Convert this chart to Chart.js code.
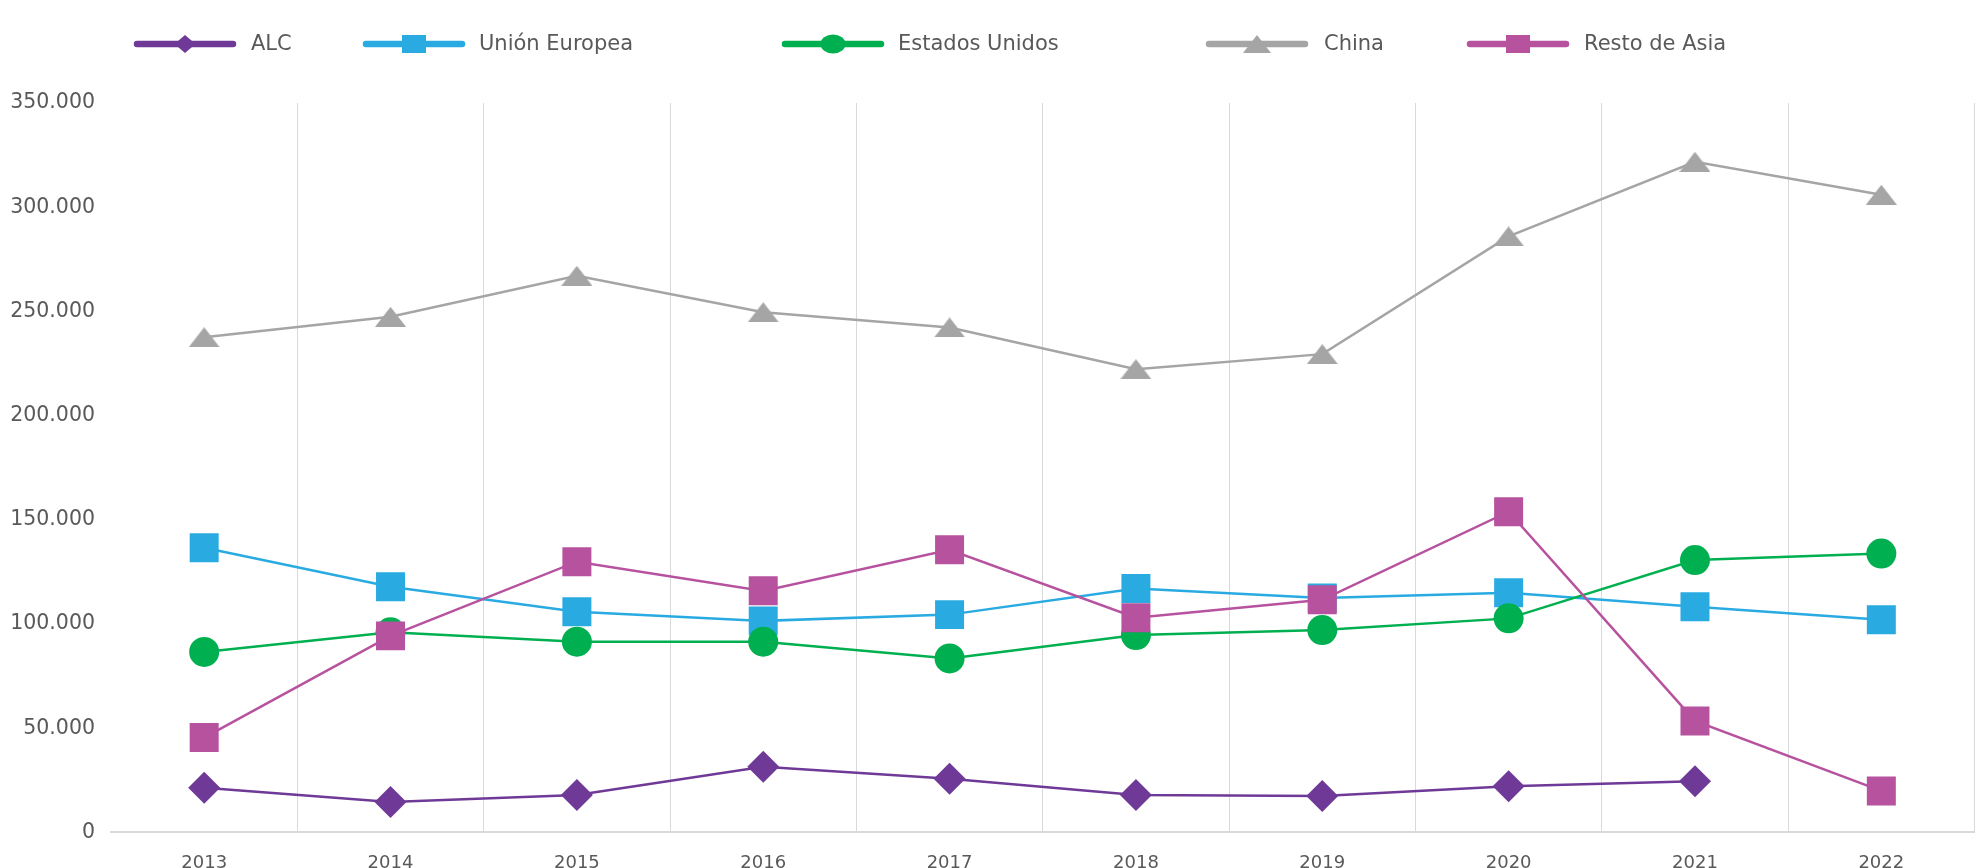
<!DOCTYPE html>
<html>
<head>
<meta charset="utf-8">
<script src="https://cdn.jsdelivr.net/npm/chart.js@4.4.0/dist/chart.umd.min.js"></script>
<style>
  html, body { margin: 0; padding: 0; background: #fff; overflow: hidden; }
  canvas { display: block; }
</style>
</head>
<body>
<canvas id="myChart" width="1995" height="894"></canvas>
<script>
const years = ['2013', '2014', '2015', '2016', '2017', '2018', '2019', '2020', '2021', '2022'];
const alc = [21400, 14600, 17900, 31500, 25800, 17900, 17500, 22200, 24600, null];
const unionEuropea = [136600, 117900, 105900, 101500, 104500, 117000, 112500, 115000, 108300, 102000];
const estadosUnidos = [86600, 96000, 91500, 91500, 83500, 94700, 97100, 102700, 130700, 133800];
const china = [237600, 247400, 267100, 249600, 242300, 222300, 229500, 286000, 321800, 306000];
const restoAsia = [45500, 94300, 129900, 115900, 135600, 103000, 111600, 153900, 53500, 19900];

const colors = {
  alc: '#6f3a97',
  ue: '#29abe2',
  eu: '#00b050',
  china: '#a5a5a5',
  asia: '#b7529f'
};
const textColor = '#595959';
const fontFamily = '"DejaVu Sans", sans-serif';

// flat triangle marker (Chart.js triangle is too tall)
function makeTriangle(w, h, color) {
  const c = document.createElement('canvas');
  c.width = w; c.height = h;
  const g = c.getContext('2d');
  g.fillStyle = color;
  g.beginPath();
  g.moveTo(w / 2, 0);
  g.lineTo(w, h);
  g.lineTo(0, h);
  g.closePath();
  g.fill();
  return c;
}
const triBig = makeTriangle(31, 20, colors.china);
const triSmall = makeTriangle(28, 18, colors.china);

function fmt(v) {
  return String(v).replace(/\B(?=(\d{3})+(?!\d))/g, '.');
}

// legend drawn by hand: line sample with marker in the middle
const legendPlugin = {
  id: 'customLegend',
  afterDraw(chart) {
    const ctx = chart.ctx;
    const items = [
      { text: 'ALC', color: colors.alc, shape: 'diamond', x: 137, tx: 251 },
      { text: 'Unión Europea', color: colors.ue, shape: 'square', x: 366, tx: 479 },
      { text: 'Estados Unidos', color: colors.eu, shape: 'circle', x: 785, tx: 898 },
      { text: 'China', color: colors.china, shape: 'triangle', x: 1209, tx: 1324 },
      { text: 'Resto de Asia', color: colors.asia, shape: 'square', x: 1470, tx: 1584 }
    ];
    const y = 44;
    ctx.save();
    items.forEach(it => {
      ctx.strokeStyle = it.color;
      ctx.lineWidth = 6.5;
      ctx.lineCap = 'round';
      ctx.beginPath();
      ctx.moveTo(it.x, y);
      ctx.lineTo(it.x + 96, y);
      ctx.stroke();
      const cx = it.x + 48;
      ctx.fillStyle = it.color;
      ctx.beginPath();
      if (it.shape === 'diamond') {
        ctx.moveTo(cx, y - 9); ctx.lineTo(cx + 10.5, y); ctx.lineTo(cx, y + 9); ctx.lineTo(cx - 10.5, y);
        ctx.closePath(); ctx.fill();
      } else if (it.shape === 'square') {
        ctx.fillRect(cx - 12, y - 9, 24, 18);
      } else if (it.shape === 'circle') {
        ctx.ellipse(cx, y, 12.5, 9.5, 0, 0, Math.PI * 2); ctx.fill();
      } else {
        ctx.drawImage(triSmall, cx - 14, y - 9);
      }
      ctx.fillStyle = textColor;
      ctx.font = '21px ' + fontFamily;
      ctx.textBaseline = 'middle';
      ctx.textAlign = 'left';
      ctx.fillText(it.text, it.tx, y + 1);
    });
    ctx.restore();
  }
};

function series(label, data, color, style, radius, order) {
  return {
    label: label,
    data: data,
    borderColor: color,
    backgroundColor: color,
    borderWidth: 2.5,
    pointStyle: style,
    pointRadius: radius,
    pointHoverRadius: radius,
    pointBackgroundColor: color,
    pointBorderWidth: 0,
    tension: 0,
    order: order
  };
}

const ctx = document.getElementById('myChart').getContext('2d');
new Chart(ctx, {
  type: 'line',
  data: {
    labels: years,
    datasets: [
      series('ALC', alc, colors.alc, 'rectRot', 16, 5),
      series('Unión Europea', unionEuropea, colors.ue, 'rect', 20.5, 4),
      series('Estados Unidos', estadosUnidos, colors.eu, 'circle', 15, 3),
      series('China', china, colors.china, triBig, 16, 2),
      series('Resto de Asia', restoAsia, colors.asia, 'rect', 20.5, 1)
    ]
  },
  options: {
    responsive: false,
    animation: false,
    layout: { padding: { top: 103, right: 0, left: 0, bottom: 0 } },
    plugins: {
      legend: { display: false },
      tooltip: { enabled: false }
    },
    scales: {
      x: {
        offset: true,
        grid: {
          offset: true,
          drawTicks: false,
          color: (c) => c.index === 0 ? 'rgba(0,0,0,0)' : '#d9d9d9',
          lineWidth: 1
        },
        border: { display: true, color: '#d9d9d9', width: 2 },
        ticks: {
          padding: 20,
          color: textColor,
          font: { family: fontFamily, size: 18 }
        }
      },
      y: {
        min: 0,
        max: 350000,
        afterFit(scale) { scale.width = 111; },
        grid: { display: false, drawTicks: false },
        border: { display: false },
        ticks: {
          stepSize: 50000,
          padding: 16,
          color: textColor,
          font: { family: fontFamily, size: 20.5 },
          callback: (v) => fmt(v)
        }
      }
    }
  },
  plugins: [legendPlugin]
});
</script>
</body>
</html>
